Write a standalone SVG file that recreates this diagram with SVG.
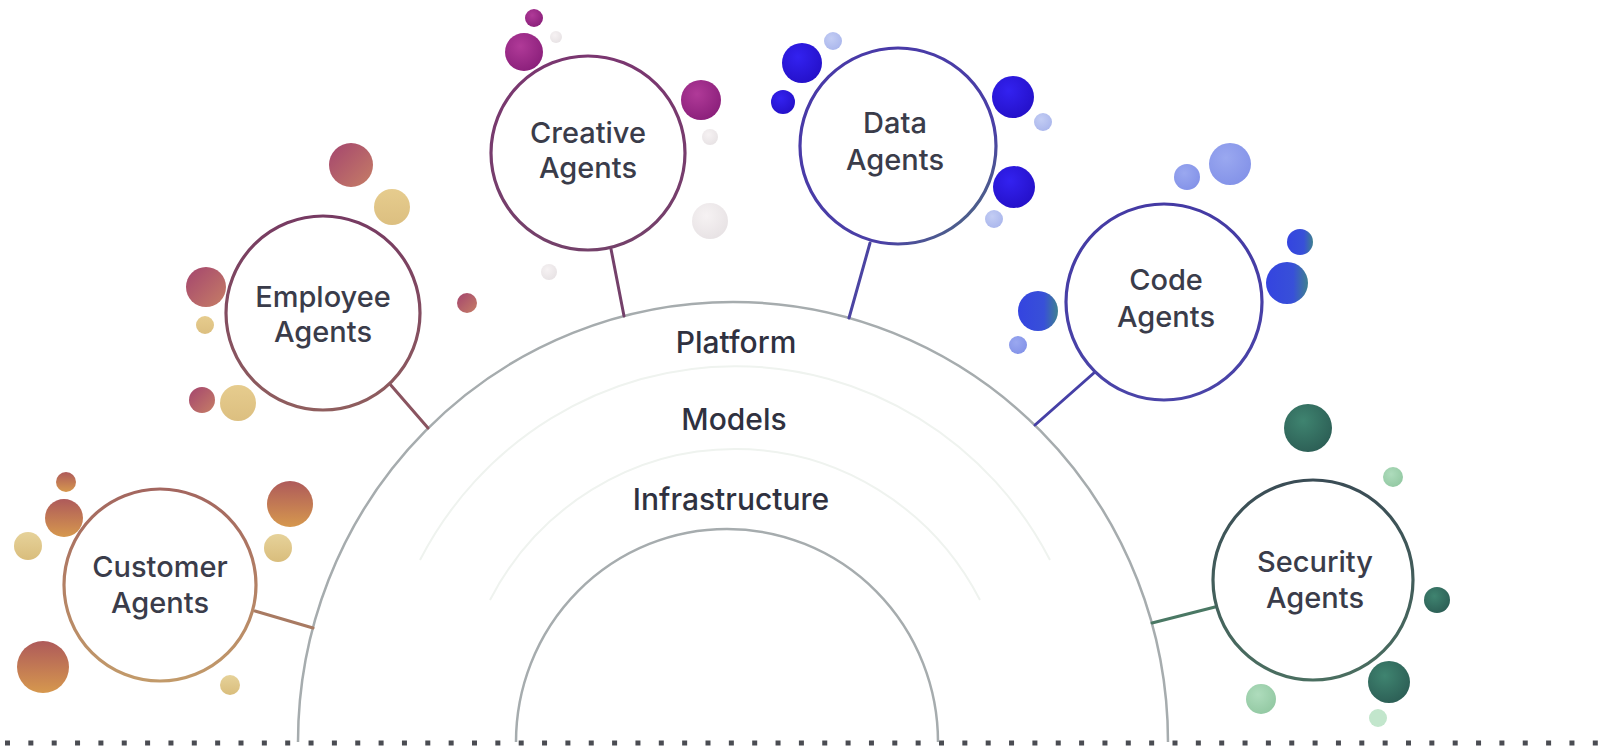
<svg xmlns="http://www.w3.org/2000/svg" width="1616" height="751" viewBox="0 0 1616 751">
  <defs>
    <style>
      .lbl { font-family: Inter, "Open Sans", "Liberation Sans", sans-serif; font-size: 29px; font-weight: 500; fill: #3a3c4a; text-anchor: middle; }
      .layer { font-family: Inter, "Open Sans", "Liberation Sans", sans-serif; font-size: 30px; font-weight: 500; fill: #2f3140; text-anchor: middle; }
      .ring { fill: none; stroke: #a6acae; stroke-width: 2.5; }
      .faint { fill: none; stroke: #eff3ef; stroke-width: 2; }
      .node { fill: #ffffff; stroke-width: 3.2; }
      .conn { fill: none; stroke-width: 3; stroke-linecap: round; }
    </style>
    <linearGradient id="stCust" x1="0" y1="0" x2="0" y2="1">
      <stop offset="0" stop-color="#a3665f"/>
      <stop offset="1" stop-color="#c29a6a"/>
    </linearGradient>
    <linearGradient id="stEmp" x1="0" y1="0" x2="0" y2="1">
      <stop offset="0" stop-color="#763a62"/>
      <stop offset="1" stop-color="#8f5e5e"/>
    </linearGradient>
    <linearGradient id="stCre" x1="0" y1="0" x2="0" y2="1">
      <stop offset="0" stop-color="#7a3670"/>
      <stop offset="1" stop-color="#74416a"/>
    </linearGradient>
    <linearGradient id="stData" x1="0" y1="0" x2="1" y2="1">
      <stop offset="0" stop-color="#4838a8"/>
      <stop offset="0.7" stop-color="#4a3fa6"/>
      <stop offset="1" stop-color="#4f7a74"/>
    </linearGradient>
    <linearGradient id="stCode" x1="0" y1="0" x2="0" y2="1">
      <stop offset="0" stop-color="#443aa4"/>
      <stop offset="1" stop-color="#4a44a8"/>
    </linearGradient>
    <linearGradient id="stSec" x1="0" y1="0" x2="0" y2="1">
      <stop offset="0" stop-color="#3a4c55"/>
      <stop offset="1" stop-color="#4a6e60"/>
    </linearGradient>
    <linearGradient id="bCust" x1="0" y1="0" x2="0" y2="1">
      <stop offset="0" stop-color="#ae5a5a"/>
      <stop offset="1" stop-color="#d6984e"/>
    </linearGradient>
    <linearGradient id="bCustL" x1="0" y1="0" x2="0" y2="1">
      <stop offset="0" stop-color="#e6d29a"/>
      <stop offset="1" stop-color="#d9bd7c"/>
    </linearGradient>
    <linearGradient id="bEmp" x1="0" y1="0" x2="1" y2="1">
      <stop offset="0" stop-color="#a4456e"/>
      <stop offset="1" stop-color="#c67e66"/>
    </linearGradient>
    <linearGradient id="bEmpL" x1="0" y1="0" x2="0" y2="1">
      <stop offset="0" stop-color="#e6cc8e"/>
      <stop offset="1" stop-color="#dcbf80"/>
    </linearGradient>
    <radialGradient id="bCre" cx="0.4" cy="0.35" r="0.7">
      <stop offset="0" stop-color="#b03a98"/>
      <stop offset="1" stop-color="#8a1f7a"/>
    </radialGradient>
    <radialGradient id="bCreL" cx="0.4" cy="0.35" r="0.7">
      <stop offset="0" stop-color="#f6f2f3"/>
      <stop offset="1" stop-color="#e7e2e4"/>
    </radialGradient>
    <radialGradient id="bData" cx="0.4" cy="0.35" r="0.7">
      <stop offset="0" stop-color="#3322f0"/>
      <stop offset="1" stop-color="#2410c8"/>
    </radialGradient>
    <radialGradient id="bDataL" cx="0.4" cy="0.35" r="0.7">
      <stop offset="0" stop-color="#c3cdf4"/>
      <stop offset="1" stop-color="#aab6ec"/>
    </radialGradient>
    <linearGradient id="bCode" x1="0" y1="0" x2="1" y2="0">
      <stop offset="0" stop-color="#3444e0"/>
      <stop offset="0.65" stop-color="#3850d8"/>
      <stop offset="1" stop-color="#3f8090"/>
    </linearGradient>
    <radialGradient id="bCodeL" cx="0.4" cy="0.35" r="0.7">
      <stop offset="0" stop-color="#9aa8f0"/>
      <stop offset="1" stop-color="#8392e8"/>
    </radialGradient>
    <radialGradient id="bSec" cx="0.4" cy="0.35" r="0.7">
      <stop offset="0" stop-color="#3f8470"/>
      <stop offset="1" stop-color="#2c5e55"/>
    </radialGradient>
    <radialGradient id="bSecL" cx="0.4" cy="0.35" r="0.7">
      <stop offset="0" stop-color="#aedcbc"/>
      <stop offset="1" stop-color="#92c8a2"/>
    </radialGradient>
  </defs>

  <rect x="0" y="0" width="1616" height="751" fill="#ffffff"/>

  <!-- dotted ground line -->
  <line x1="5" y1="743" x2="1606" y2="743" stroke="#4a4c52" stroke-width="5" stroke-dasharray="5 18.35"/>

  <!-- layered half circle -->
  <g id="stack">
    <path class="ring" d="M 298 742 A 435 440 0 0 1 1168 742"/>
    <path class="faint" d="M 420 560 A 356 363 0 0 1 1050 560"/>
    <path class="faint" d="M 490 600 A 277 283 0 0 1 980 600"/>
    <path class="ring" d="M 516 742 A 211 213 0 0 1 938 742"/>
    <text class="layer" x="736" y="353">Platform</text>
    <text class="layer" x="734" y="430">Models</text>
    <text class="layer" x="731" y="510">Infrastructure</text>
  </g>

  <!-- connectors -->
  <g id="connectors">
    <line class="conn" stroke="#a87a62" x1="255" y1="611" x2="313" y2="628"/>
    <line class="conn" stroke="#8a5460" x1="389" y1="383" x2="428" y2="428"/>
    <line class="conn" stroke="#74406a" x1="611" y1="249" x2="624" y2="316"/>
    <line class="conn" stroke="#4b44a2" x1="870" y1="243" x2="849" y2="318"/>
    <line class="conn" stroke="#4640a6" x1="1095" y1="372" x2="1035" y2="425"/>
    <line class="conn" stroke="#4a7864" x1="1215" y1="607" x2="1152" y2="623"/>
  </g>

  <g id="customer-agents">
    <circle cx="66" cy="482" r="10" fill="url(#bCust)"/>
    <circle cx="64" cy="518" r="19" fill="url(#bCust)"/>
    <circle cx="28" cy="546" r="14" fill="url(#bCustL)"/>
    <circle cx="290" cy="504" r="23" fill="url(#bCust)"/>
    <circle cx="278" cy="548" r="14" fill="url(#bCustL)"/>
    <circle cx="43" cy="667" r="26" fill="url(#bCust)"/>
    <circle cx="230" cy="685" r="10" fill="url(#bCustL)"/>
    <circle class="node" cx="160" cy="585" r="96" stroke="url(#stCust)"/>
    <text class="lbl" x="160" y="577">Customer</text>
    <text class="lbl" x="160" y="613">Agents</text>
  </g>

  <g id="employee-agents">
    <circle cx="351" cy="165" r="22" fill="url(#bEmp)"/>
    <circle cx="392" cy="207" r="18" fill="url(#bEmpL)"/>
    <circle cx="206" cy="287" r="20" fill="url(#bEmp)"/>
    <circle cx="205" cy="325" r="9" fill="url(#bEmpL)"/>
    <circle cx="202" cy="400" r="13" fill="url(#bEmp)"/>
    <circle cx="238" cy="403" r="18" fill="url(#bEmpL)"/>
    <circle cx="467" cy="303" r="10" fill="url(#bEmp)"/>
    <circle class="node" cx="323" cy="313" r="97" stroke="url(#stEmp)"/>
    <text class="lbl" x="323" y="307">Employee</text>
    <text class="lbl" x="323" y="342">Agents</text>
  </g>

  <g id="creative-agents">
    <circle cx="534" cy="18" r="9" fill="url(#bCre)"/>
    <circle cx="524" cy="52" r="19" fill="url(#bCre)"/>
    <circle cx="556" cy="37" r="6" fill="url(#bCreL)"/>
    <circle cx="701" cy="100" r="20" fill="url(#bCre)"/>
    <circle cx="710" cy="137" r="8" fill="url(#bCreL)"/>
    <circle cx="710" cy="221" r="18" fill="url(#bCreL)"/>
    <circle cx="549" cy="272" r="8" fill="url(#bCreL)"/>
    <circle class="node" cx="588" cy="153" r="97" stroke="url(#stCre)"/>
    <text class="lbl" x="588" y="143">Creative</text>
    <text class="lbl" x="588" y="178">Agents</text>
  </g>

  <g id="data-agents">
    <circle cx="802" cy="63" r="20" fill="url(#bData)"/>
    <circle cx="833" cy="41" r="9" fill="url(#bDataL)"/>
    <circle cx="783" cy="102" r="12" fill="url(#bData)"/>
    <circle cx="1013" cy="97" r="21" fill="url(#bData)"/>
    <circle cx="1043" cy="122" r="9" fill="url(#bDataL)"/>
    <circle cx="1014" cy="187" r="21" fill="url(#bData)"/>
    <circle cx="994" cy="219" r="9" fill="url(#bDataL)"/>
    <circle class="node" cx="898" cy="146" r="98" stroke="url(#stData)"/>
    <text class="lbl" x="895" y="133">Data</text>
    <text class="lbl" x="895" y="170">Agents</text>
  </g>

  <g id="code-agents">
    <circle cx="1187" cy="177" r="13" fill="url(#bCodeL)"/>
    <circle cx="1230" cy="164" r="21" fill="url(#bCodeL)"/>
    <circle cx="1300" cy="242" r="13" fill="url(#bCode)"/>
    <circle cx="1287" cy="283" r="21" fill="url(#bCode)"/>
    <circle cx="1038" cy="311" r="20" fill="url(#bCode)"/>
    <circle cx="1018" cy="345" r="9" fill="url(#bCodeL)"/>
    <circle class="node" cx="1164" cy="302" r="98" stroke="url(#stCode)"/>
    <text class="lbl" x="1166" y="290">Code</text>
    <text class="lbl" x="1166" y="327">Agents</text>
  </g>

  <g id="security-agents">
    <circle cx="1308" cy="428" r="24" fill="url(#bSec)"/>
    <circle cx="1393" cy="477" r="10" fill="url(#bSecL)"/>
    <circle cx="1437" cy="600" r="13" fill="url(#bSec)"/>
    <circle cx="1389" cy="682" r="21" fill="url(#bSec)"/>
    <circle cx="1261" cy="699" r="15" fill="url(#bSecL)"/>
    <circle cx="1378" cy="718" r="9" fill="#c2e6cc"/>
    <circle class="node" cx="1313" cy="580" r="100" stroke="url(#stSec)"/>
    <text class="lbl" x="1315" y="572">Security</text>
    <text class="lbl" x="1315" y="608">Agents</text>
  </g>
</svg>
